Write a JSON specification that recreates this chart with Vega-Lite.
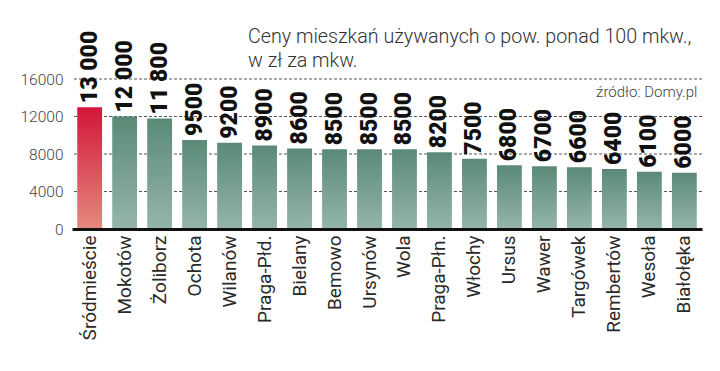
{
  "$schema": "https://vega.github.io/schema/vega-lite/v6.json",
  "width": 630,
  "height": 150,
  "autosize": {"type": "pad"},
  "padding": {"left": 20, "top": 27, "right": 18, "bottom": 5},
  "background": "white",
  "title": {
    "text": ["Ceny mieszkań używanych o pow. ponad 100 mkw.,", " w zł za mkw."],
    "anchor": "start",
    "frame": "group",
    "dx": 176,
    "offset": -40,
    "font": "Roboto",
    "fontSize": 19.7,
    "fontWeight": 300,
    "color": "#333333",
    "lineHeight": 24
  },
  "config": {"view": {"stroke": null}},
  "data": {
    "values": [
      {"district": "Śródmieście", "price": 13000, "label": "13 000"},
      {"district": "Mokotów", "price": 12000, "label": "12 000"},
      {"district": "Żoliborz", "price": 11800, "label": "11 800"},
      {"district": "Ochota", "price": 9500, "label": "9500"},
      {"district": "Wilanów", "price": 9200, "label": "9200"},
      {"district": "Praga-Płd.", "price": 8900, "label": "8900"},
      {"district": "Bielany", "price": 8600, "label": "8600"},
      {"district": "Bemowo", "price": 8500, "label": "8500"},
      {"district": "Ursynów", "price": 8500, "label": "8500"},
      {"district": "Wola", "price": 8500, "label": "8500"},
      {"district": "Praga-Płn.", "price": 8200, "label": "8200"},
      {"district": "Włochy", "price": 7500, "label": "7500"},
      {"district": "Ursus", "price": 6800, "label": "6800"},
      {"district": "Wawer", "price": 6700, "label": "6700"},
      {"district": "Targówek", "price": 6600, "label": "6600"},
      {"district": "Rembertów", "price": 6400, "label": "6400"},
      {"district": "Wesoła", "price": 6100, "label": "6100"},
      {"district": "Białołęka", "price": 6000, "label": "6000"}
    ]
  },
  "encoding": {
    "x": {
      "field": "district",
      "type": "nominal",
      "sort": null,
      "scale": {"paddingInner": 0.29, "paddingOuter": 0.15},
      "axis": {
        "title": null,
        "labelAngle": -90,
        "labelFont": "Roboto",
        "labelFontSize": 19,
        "labelColor": "#2a2a2a",
        "labelPadding": 6,
        "ticks": false,
        "domain": true,
        "domainColor": "#111111",
        "domainWidth": 3,
        "zindex": 2
      }
    },
    "y": {
      "field": "price",
      "type": "quantitative",
      "scale": {"domain": [0, 16000], "nice": false},
      "axis": {
        "title": null,
        "values": [0, 4000, 8000, 12000, 16000],
        "format": "d",
        "grid": false,
        "domain": false,
        "ticks": false,
        "labelFont": "Roboto",
        "labelFontSize": 15.5,
        "labelFontWeight": 300,
        "labelColor": "#444444",
        "labelPadding": 9
      }
    }
  },
  "layer": [
    {
      "data": {"values": [{"bg": 1}]},
      "mark": {
        "type": "rect",
        "fill": {
          "gradient": "linear", "x1": 0, "y1": 0, "x2": 0, "y2": 1,
          "stops": [{"offset": 0, "color": "#ffffff"}, {"offset": 0.4, "color": "#f7f9f9"}, {"offset": 1, "color": "#e0e7e7"}]
        }
      },
      "encoding": {
        "x": null,
        "y": {"datum": 16000, "type": "quantitative"},
        "y2": {"datum": 0}
      }
    },
    {
      "data": {"values": [{"g": 4000}, {"g": 8000}, {"g": 12000}, {"g": 16000}]},
      "mark": {"type": "rule", "color": "#555555", "strokeWidth": 1, "strokeDash": [3, 2]},
      "encoding": {
        "x": null,
        "y": {"field": "g", "type": "quantitative"}
      }
    },
    {
      "transform": [{"filter": "datum.district === 'Śródmieście'"}],
      "mark": {
        "type": "bar",
        "fill": {
          "gradient": "linear", "x1": 0, "y1": 0, "x2": 0, "y2": 1,
          "stops": [{"offset": 0, "color": "#d3153b"}, {"offset": 1, "color": "#e48a7c"}]
        }
      }
    },
    {
      "transform": [{"filter": "datum.district !== 'Śródmieście'"}],
      "mark": {
        "type": "bar",
        "fill": {
          "gradient": "linear", "x1": 0, "y1": 0, "x2": 0, "y2": 1,
          "stops": [{"offset": 0, "color": "#5a8a77"}, {"offset": 1, "color": "#95b5ab"}]
        }
      }
    },
    {
      "mark": {
        "type": "text",
        "angle": 270,
        "align": "left",
        "baseline": "middle",
        "dx": 4,
        "font": "Roboto",
        "fontWeight": 900,
        "fontSize": 23,
        "color": "#111111"
      },
      "encoding": {"text": {"field": "label"}}
    },
    {
      "transform": [{"filter": "datum.district === 'Białołęka'"}],
      "mark": {
        "type": "text",
        "align": "right",
        "baseline": "middle",
        "dx": 13,
        "font": "Roboto",
        "fontWeight": 300,
        "fontSize": 15,
        "color": "#444444"
      },
      "encoding": {
        "y": {"datum": 14600, "type": "quantitative"},
        "text": {"value": "źródło: Domy.pl"}
      }
    }
  ]
}
